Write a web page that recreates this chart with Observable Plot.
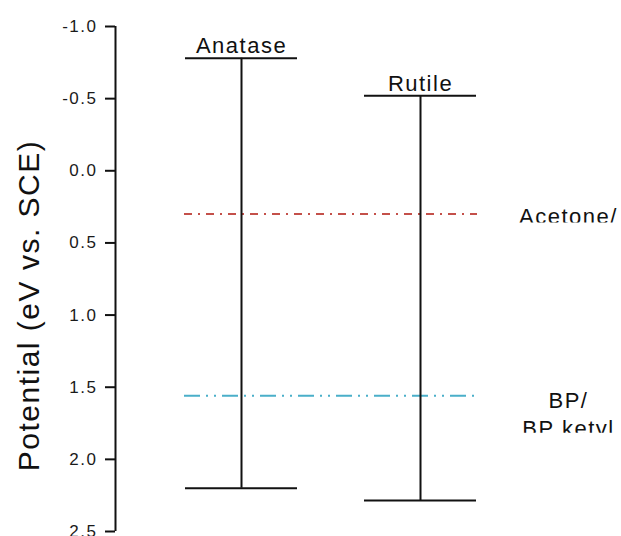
<!DOCTYPE html>
<html>
<head>
<meta charset="utf-8">
<script src="https://cdn.jsdelivr.net/npm/d3@7"></script>
<script src="https://cdn.jsdelivr.net/npm/@observablehq/plot@0.6"></script>
<style>
  html, body { margin: 0; padding: 0; background: #fff; overflow: hidden; }
  #chart svg { overflow: hidden; }
  #chart svg text { letter-spacing: 1.5px; }
  #chart svg g[aria-label="y-label"] text { letter-spacing: 0.5px; }
</style>
</head>
<body>
<div id="chart"></div>
<script>
// Band edges of the two TiO2 polymorphs and the redox couples (V vs. SCE)
const phases = ["Anatase", "Rutile"];
const conductionBand = [-0.78, -0.52];
const valenceBand = [2.2, 2.285];
const couples = ["Acetone/", "BP/\nBP ketyl"];
const couplePotentials = [0.3, 1.56];
const yTicks = [-1.0, -0.5, 0.0, 0.5, 1.0, 1.5, 2.0, 2.5];
const yLabel = "Potential (eV vs. SCE)";

const bands = phases.map((phase, i) => ({phase, cb: conductionBand[i], vb: valenceBand[i]}));
const acetone = [{label: couples[0], e: couplePotentials[0]}];
const benzophenone = [{label: couples[1], e: couplePotentials[1]}];
const axisSpan = [{lo: yTicks[0], hi: yTicks[yTicks.length - 1]}];

const ink = "#111";
const W = 621, H = 536;
const M = {top: 26, bottom: 5, left: 184, right: 144};
const axisX = 115; // the y axis sits left of the plotting frame
const axisShift = axisX - M.left;
const frameMid = (M.left + W - M.right) / 2;

// Labels beside the couples are cut off below their box
let clipCount = 0;
function clipBelow(limit) {
  return function (index, scales, values, dimensions, context, next) {
    const g = next(index, scales, values, dimensions, context);
    const ns = "http://www.w3.org/2000/svg";
    const id = `label-clip-${++clipCount}`;
    const clip = document.createElementNS(ns, "clipPath");
    clip.setAttribute("id", id);
    const rect = document.createElementNS(ns, "rect");
    rect.setAttribute("x", -1000);
    rect.setAttribute("y", -1000);
    rect.setAttribute("width", 2000);
    rect.setAttribute("height", 1000 + limit);
    clip.appendChild(rect);
    g.insertBefore(clip, g.firstChild);
    for (const t of g.querySelectorAll("text")) t.setAttribute("clip-path", `url(#${id})`);
    return g;
  };
}

const chart = Plot.plot({
  width: W,
  height: H,
  marginTop: M.top,
  marginBottom: M.bottom,
  marginLeft: M.left,
  marginRight: M.right,
  style: {fontFamily: "'Liberation Sans', Arial, sans-serif", color: ink, background: "#fff"},
  x: {type: "band", domain: phases, paddingInner: 0.372, paddingOuter: 0, axis: null},
  y: {domain: [-1, 2.5], reverse: true},
  marks: [
    // axis line (no x channel: centred in the frame, then shifted to the axis position)
    Plot.ruleX(axisSpan, {x: null, y1: "lo", y2: "hi", dx: axisX - frameMid, stroke: ink, strokeWidth: 2}),
    Plot.axisY({
      ticks: yTicks,
      tickFormat: (d) => d.toFixed(1),
      tickSize: 10,
      tickPadding: 8,
      dx: axisShift,
      fontSize: 17,
      fill: "#1a1a1a",
      stroke: ink,
      strokeWidth: 2,
      label: null
    }),
    Plot.text([yLabel], {
      frameAnchor: "left",
      textAnchor: "middle",
      rotate: -90,
      lineAnchor: "bottom",
      dx: 38 - M.left,
      dy: 26.5,
      fontSize: 30,
      fill: ink,
      ariaLabel: "y-label"
    }),
    Plot.ruleY(acetone, {y: "e", stroke: "#c4504a", strokeWidth: 2, strokeDasharray: "8,6,2,6"}),
    Plot.ruleY(benzophenone, {y: "e", stroke: "#4aafc9", strokeWidth: 2, strokeDasharray: "16,6,2,6,2,6"}),
    Plot.ruleX(bands, {x: "phase", y1: "cb", y2: "vb", stroke: ink, strokeWidth: 2}),
    Plot.tickY(bands, {x: "phase", y: "cb", stroke: ink, strokeWidth: 2}),
    Plot.tickY(bands, {x: "phase", y: "vb", stroke: ink, strokeWidth: 2}),
    Plot.text(bands, {x: "phase", y: "cb", text: "phase", lineAnchor: "bottom", dy: -5, fontSize: 22, fill: ink}),
    Plot.text(acetone, {
      y: "e", text: "label", frameAnchor: "right", textAnchor: "middle", dx: 91, dy: -10,
      lineAnchor: "top", lineHeight: 1.25, fontSize: 22, fill: ink,
      render: clipBelow(18.5)
    }),
    Plot.text(benzophenone, {
      y: "e", text: "label", frameAnchor: "right", textAnchor: "middle", dx: 91, dy: -7,
      lineAnchor: "top", lineHeight: 1.25, fontSize: 22, fill: ink,
      render: clipBelow(44)
    })
  ]
});

document.getElementById("chart").appendChild(chart);
</script>
</body>
</html>
